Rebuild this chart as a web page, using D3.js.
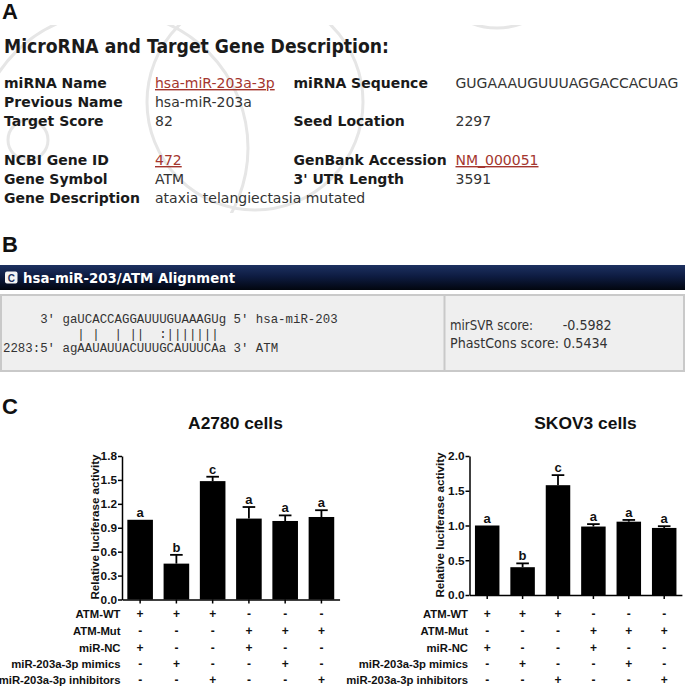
<!DOCTYPE html>
<html><head><meta charset="utf-8">
<script src="https://cdn.jsdelivr.net/npm/d3@7"></script>
<style>body{margin:0;background:#fff}svg{display:block}</style>
</head><body><svg id="fig" width="685" height="687"></svg>
<script>
// ---------- Panel A data ----------
const infoTitle = "MicroRNA and Target Gene Description:";
const infoLabelsLeft = ["miRNA Name","Previous Name","Target Score","NCBI Gene ID","Gene Symbol","Gene Description"];
const infoValuesLeft = ["hsa-miR-203a-3p","hsa-miR-203a","82","472","ATM","ataxia telangiectasia mutated"];
const infoLinksLeft  = [true,false,false,true,false,false];
const infoLabelsRight = ["miRNA Sequence","","Seed Location","GenBank Accession","3' UTR Length",""];
const infoValuesRight = ["GUGAAAUGUUUAGGACCACUAG","","2297","NM_000051","3591",""];
const infoLinksRight  = [false,false,false,true,false,false];

// ---------- Panel B data ----------
const alignTitle = "hsa-miR-203/ATM Alignment";
const alignLines = [
  "     3' gaUCACCAGGAUUUGUAAAGUg 5' hsa-miR-203",
  "          | |  | ||  :|||||||",
  "2283:5' agAAUAUUACUUUGCAUUUCAa 3' ATM"
];
const scoreNames = ["mirSVR score:","PhastCons score:"];
const scoreValues = ["-0.5982","0.5434"];

// ---------- Panel C data ----------
const conditions = ["ATM-WT","ATM-Mut","miR-NC","miR-203a-3p mimics","miR-203a-3p inhibitors"];
const groups = [1,2,3,4,5,6];
const design = [
  ["+","+","+","-","-","-"],
  ["-","-","-","+","+","+"],
  ["+","-","-","+","-","-"],
  ["-","+","-","-","+","-"],
  ["-","-","+","-","-","+"]
];
const a2780Title = "A2780 cells";
const a2780Values = [1.00,0.45,1.485,1.015,0.985,1.035];
const a2780Errors = [0.00,0.11,0.055,0.145,0.07,0.085];
const a2780Letters = ["a","b","c","a","a","a"];
const a2780Ticks = [0,0.3,0.6,0.9,1.2,1.5,1.8];
const skov3Title = "SKOV3 cells";
const skov3Values = [1.00,0.40,1.58,0.985,1.055,0.965];
const skov3Errors = [0.00,0.055,0.145,0.035,0.025,0.025];
const skov3Letters = ["a","b","c","a","a","a"];
const skov3Ticks = [0,0.5,1.0,1.5,2.0];
const yLabel = "Relative luciferase activity";

const svg = d3.select("#fig");
const ARIAL = "'Liberation Sans', Arial, sans-serif";
const VERD = "'DejaVu Sans', Verdana, sans-serif";

// panel letters
[["A",2,18.5],["B",2,252],["C",2,413.5]].forEach(([t,x,y])=>{
  svg.append("text").attr("x",x).attr("y",y).text(t)
    .attr("font-family",ARIAL).attr("font-weight","bold").attr("font-size",22).attr("fill","#111");
});

// ---------- Panel A ----------
const gA = svg.append("g");
svg.append("defs").append("clipPath").attr("id","wm").append("rect")
  .attr("x",0).attr("y",25).attr("width",685).attr("height",188);
const wm = gA.append("g").attr("clip-path","url(#wm)")
  .attr("fill","none").attr("stroke","#e6e6e6").attr("stroke-width",3);
wm.append("circle").attr("cx",255).attr("cy",102).attr("r",108);
wm.append("circle").attr("cx",112).attr("cy",148).attr("r",136);
wm.append("circle").attr("cx",28).attr("cy",140).attr("r",20);
wm.append("circle").attr("cx",497).attr("cy",-40).attr("r",68);

gA.append("text").attr("x",4).attr("y",52.7).text(infoTitle)
  .attr("font-family",VERD).attr("font-weight","bold").attr("font-size",19.5)
  .attr("textLength",385).attr("lengthAdjust","spacingAndGlyphs").attr("fill","#1a1a1a");

const rowY = [88,107,125.5,165,184,202.5];
const colX = [4,155,293.5,455.5];
function infoCol(labels, x, bold, links){
  gA.selectAll(null).data(labels).enter().append("text")
    .attr("x",x).attr("y",(d,i)=>rowY[i]).text(d=>d)
    .attr("font-family",VERD).attr("font-size",14)
    .attr("font-weight",bold?"bold":"normal")
    .attr("fill",(d,i)=>links&&links[i]?"#a4362e":(bold?"#1a1a1a":"#333"))
    .style("text-decoration",(d,i)=>links&&links[i]?"underline":"none");
}
infoCol(infoLabelsLeft,colX[0],true,null);
infoCol(infoValuesLeft,colX[1],false,infoLinksLeft);
infoCol(infoLabelsRight,colX[2],true,null);
infoCol(infoValuesRight,colX[3],false,infoLinksRight);

// ---------- Panel B ----------
const gB = svg.append("g");
const grad = svg.select("defs").append("linearGradient").attr("id","hdr")
  .attr("x1",0).attr("y1",0).attr("x2",0).attr("y2",1);
grad.append("stop").attr("offset","0%").attr("stop-color","#1d3160");
grad.append("stop").attr("offset","45%").attr("stop-color","#0e1c42");
grad.append("stop").attr("offset","100%").attr("stop-color","#02060f");
gB.append("rect").attr("x",0).attr("y",265).attr("width",685).attr("height",25).attr("fill","url(#hdr)");
gB.append("rect").attr("x",5).attr("y",271.5).attr("width",12.5).attr("height",12).attr("rx",2).attr("fill","#f4f4f4");
gB.append("text").attr("x",11.25).attr("y",281.5).attr("text-anchor","middle").text("C")
  .attr("font-family",ARIAL).attr("font-weight","bold").attr("font-size",10).attr("fill","#1d3160");
gB.append("text").attr("x",23).attr("y",283).text(alignTitle)
  .attr("font-family",VERD).attr("font-weight","bold").attr("font-size",14.5)
  .attr("textLength",212).attr("lengthAdjust","spacingAndGlyphs").attr("fill","#fff");
gB.append("rect").attr("x",1).attr("y",295).attr("width",683).attr("height",76)
  .attr("fill","#efefef").attr("stroke","#c9c9c9").attr("stroke-width",2);
gB.append("line").attr("x1",444.5).attr("x2",444.5).attr("y1",295).attr("y2",371)
  .attr("stroke","#c9c9c9").attr("stroke-width",2);
const alignY = [322.5,337.5,351.7];
gB.selectAll(null).data(alignLines).enter().append("text")
  .attr("x",3).attr("y",(d,i)=>alignY[i]).text(d=>d)
  .attr("xml:space","preserve").style("white-space","pre")
  .attr("font-family","'Liberation Mono', 'Courier New', monospace").attr("font-size",12.4).attr("fill","#333");
gB.append("text").attr("x",450).attr("y",330).text(scoreNames[0])
  .attr("font-family",VERD).attr("font-size",14.5).attr("textLength",83).attr("lengthAdjust","spacingAndGlyphs").attr("fill","#333");
gB.append("text").attr("x",562.7).attr("y",330).text(scoreValues[0])
  .attr("font-family",VERD).attr("font-size",14.5).attr("textLength",49).attr("lengthAdjust","spacingAndGlyphs").attr("fill","#333");
gB.append("text").attr("x",450).attr("y",347.7).text(scoreNames[1] + " " + scoreValues[1])
  .attr("font-family",VERD).attr("font-size",14.5).attr("textLength",157.7).attr("lengthAdjust","spacingAndGlyphs").attr("fill","#333");

// ---------- Panel C ----------
function barChart(opt){
  const g = svg.append("g");
  const y = d3.scaleLinear().domain([0,opt.max]).range([opt.y0,opt.yTop]);
  const x = d3.scaleBand().domain(groups).range([opt.axisX, opt.axisX + 6*opt.step])
    .paddingInner(opt.pad).paddingOuter(opt.pad/2);
  g.append("text").attr("x",opt.titleX).attr("y",429).attr("text-anchor","middle").text(opt.title)
    .attr("font-family",ARIAL).attr("font-weight","bold").attr("font-size",17.4).attr("fill","#111");
  g.selectAll(".bar").data(opt.values).enter().append("rect")
    .attr("x",(d,i)=>x(groups[i])).attr("width",x.bandwidth())
    .attr("y",d=>y(d)).attr("height",d=>opt.y0-y(d)).attr("fill","#000");
  opt.values.forEach((v,i)=>{
    const cx = x(groups[i])+x.bandwidth()/2, e = opt.errors[i];
    if(e>0){
      g.append("line").attr("x1",cx).attr("x2",cx).attr("y1",y(v)).attr("y2",y(v+e)).attr("stroke","#000").attr("stroke-width",1.8);
      g.append("line").attr("x1",cx-6.3).attr("x2",cx+6.3).attr("y1",y(v+e)).attr("y2",y(v+e)).attr("stroke","#000").attr("stroke-width",1.8);
    }
    g.append("text").attr("x",cx).attr("y",y(v+e)-3).attr("text-anchor","middle").text(opt.letters[i])
      .attr("font-family",ARIAL).attr("font-weight","bold").attr("font-size",13).attr("fill","#111");
  });
  const ya = g.append("g").attr("transform",`translate(${opt.axisX},0)`)
    .call(d3.axisLeft(y).tickValues(opt.ticks).tickSize(4).tickSizeOuter(0).tickPadding(1).tickFormat(d3.format(".1f")));
  const xa = g.append("g").attr("transform",`translate(0,${opt.y0})`)
    .call(d3.axisBottom(x).tickSize(4).tickSizeOuter(0).tickFormat(""));
  [ya,xa].forEach(a=>{
    a.selectAll("path,line").attr("stroke","#000").attr("stroke-width",1.5);
    a.selectAll("text").attr("font-family",ARIAL).attr("font-weight","bold").attr("font-size",11.8).attr("fill","#111");
  });
  g.append("text").attr("transform",`translate(${opt.labelX},${opt.labelY}) rotate(-90)`)
    .attr("text-anchor","middle").attr("dominant-baseline","central").text(yLabel)
    .attr("font-family",ARIAL).attr("font-weight","bold").attr("font-size",11.6).attr("fill","#111");
  const tY = [613.5,630.5,647.5,664,680];
  conditions.forEach((c,r)=>{
    g.append("text").attr("x",opt.axisX-1.5).attr("y",tY[r]).attr("text-anchor","end")
      .attr("dominant-baseline","central").text(c)
      .attr("font-family",ARIAL).attr("font-weight","bold").attr("font-size",11.3).attr("fill","#111");
    design[r].forEach((s,i)=>{
      g.append("text").attr("x",x(groups[i])+x.bandwidth()/2).attr("y",tY[r]).attr("text-anchor","middle")
        .attr("dominant-baseline","central").text(s)
        .attr("font-family",ARIAL).attr("font-weight","bold").attr("font-size",12).attr("fill","#111");
    });
  });
}
barChart({title:a2780Title,titleX:235.5,values:a2780Values,errors:a2780Errors,letters:a2780Letters,
  ticks:a2780Ticks,max:1.8,y0:599.5,yTop:456,axisX:122,step:36.26,pad:0.294,labelX:94,labelY:527});
barChart({title:skov3Title,titleX:585.5,values:skov3Values,errors:skov3Errors,letters:skov3Letters,
  ticks:skov3Ticks,max:2.0,y0:595,yTop:456,axisX:469.5,step:35.4,pad:0.308,labelX:439.5,labelY:525});
</script></body></html>
